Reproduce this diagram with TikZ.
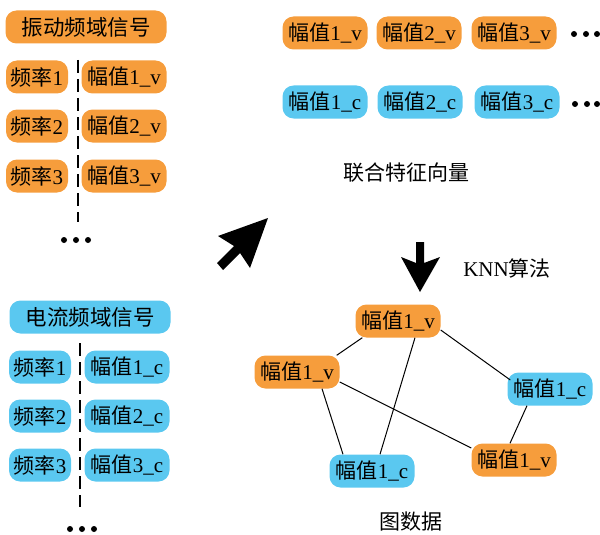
\documentclass[tikz,border=0pt]{standalone}
\usepackage{fontspec}
\setmainfont{Liberation Serif}
\newfontfamily\cjk{Noto Sans CJK SC}
\usetikzlibrary{arrows.meta}
\definecolor{org}{RGB}{246,157,60}
\definecolor{blu}{RGB}{90,200,240}
\newcommand\fzv[2]{{\cjk 幅值}#1\_#2}
\newcommand\plv[1]{{\cjk 频率}#1}
\begin{document}
\begin{tikzpicture}[x=1pt,y=-1pt,
  bx/.style={rectangle, rounded corners=11pt, minimum height=33pt, inner sep=1pt, font=\fontsize{21}{24}\selectfont},
  ov/.style={bx, fill=org},
  cu/.style={bx, fill=blu},
  sig/.style={minimum width=161pt, font=\fontsize{21.5}{24}\selectfont},
  fq/.style={minimum width=62pt},
  am/.style={minimum width=85pt},
  lab/.style={font=\fontsize{21}{24}\selectfont},
  sep/.style={line width=2.6pt, dash pattern=on 13pt off 6pt},
  edge/.style={line width=1pt},
  dot/.style={fill=black}]
\useasboundingbox (0,0) rectangle (600,535);

% vibration signal
\node[ov,sig] (vs) at (86,27) {{\cjk 振动频域信号}};
\node[ov,fq] (vf1) at (37,77) {\plv{1}};
\node[ov,fq] (vf2) at (37,126) {\plv{2}};
\node[ov,fq] (vf3) at (37,176) {\plv{3}};
\node[ov,am] (va1) at (124,77) {\fzv{1}{v}};
\node[ov,am] (va2) at (124,126) {\fzv{2}{v}};
\node[ov,am] (va3) at (124,176) {\fzv{3}{v}};
\coordinate (vd1) at (78,60);
\coordinate (vd2) at (78,222);
\draw[sep] (vd1) -- (vd2);
\foreach \x in {64,76,88} \fill[dot] (\x,240) circle (3pt);

% current signal
\node[cu,sig] (cs) at (90,317) {{\cjk 电流频域信号}};
\node[cu,fq] (cf1) at (40,367) {\plv{1}};
\node[cu,fq] (cf2) at (40,416) {\plv{2}};
\node[cu,fq] (cf3) at (40,465) {\plv{3}};
\node[cu,am] (ca1) at (127,367) {\fzv{1}{c}};
\node[cu,am] (ca2) at (127,416) {\fzv{2}{c}};
\node[cu,am] (ca3) at (127,465) {\fzv{3}{c}};
\coordinate (cd1) at (80,343);
\coordinate (cd2) at (80,507);
\draw[sep] (cd1) -- (cd2);
\foreach \x in {70,82,94} \fill[dot] (\x,529) circle (3pt);

% joint feature vector
\node[ov,am] (jv1) at (325,33) {\fzv{1}{v}};
\node[ov,am] (jv2) at (419,33) {\fzv{2}{v}};
\node[ov,am] (jv3) at (514,33) {\fzv{3}{v}};
\foreach \x in {574,586,597} \fill[dot] (\x,34) circle (3pt);
\node[cu,am] (jc1) at (325,102) {\fzv{1}{c}};
\node[cu,am] (jc2) at (420,102) {\fzv{2}{c}};
\node[cu,am] (jc3) at (517,102) {\fzv{3}{c}};
\foreach \x in {575,587,597} \fill[dot] (\x,104) circle (3pt);
\node[lab] (jl) at (406,173) {{\cjk 联合特征向量}};

% big arrows
\fill (268,218) -- (218,236) -- (234,246) -- (217,263) -- (223,270) -- (240,253) -- (250,268) -- cycle;
\fill (416,242) -- (424,242) -- (424,263) -- (440,257) -- (420,292) -- (401,257) -- (416,263) -- cycle;
\node[lab] (knn) at (507,268) {KNN{\cjk 算法}};

% graph
\node[ov,am] (g1) at (398,321) {\fzv{1}{v}};
\node[ov,am] (g2) at (297,372) {\fzv{1}{v}};
\node[cu,am] (g3) at (550,389) {\fzv{1}{c}};
\node[cu,am] (g4) at (372,471) {\fzv{1}{c}};
\node[ov,am] (g5) at (514,460) {\fzv{1}{v}};
\draw[edge] ([xshift=7pt]g1.south west) -- ([xshift=-3pt]g2.north east);
\draw[edge] ([xshift=17pt]g1.south) -- ([xshift=8pt]g4.north);
\draw[edge] ([yshift=-9pt]g1.east) -- ([xshift=3pt,yshift=9pt]g3.west);
\draw[edge] ([xshift=25pt]g2.south) -- ([xshift=-29pt]g4.north);
\draw[edge] ([yshift=-10pt]g2.east) -- ([yshift=12pt]g5.west);
\draw[edge] ([xshift=-23pt]g3.south) -- ([xshift=-4pt]g5.north);
\node[lab] (gl) at (411,522) {{\cjk 图数据}};
\end{tikzpicture}
\end{document}
